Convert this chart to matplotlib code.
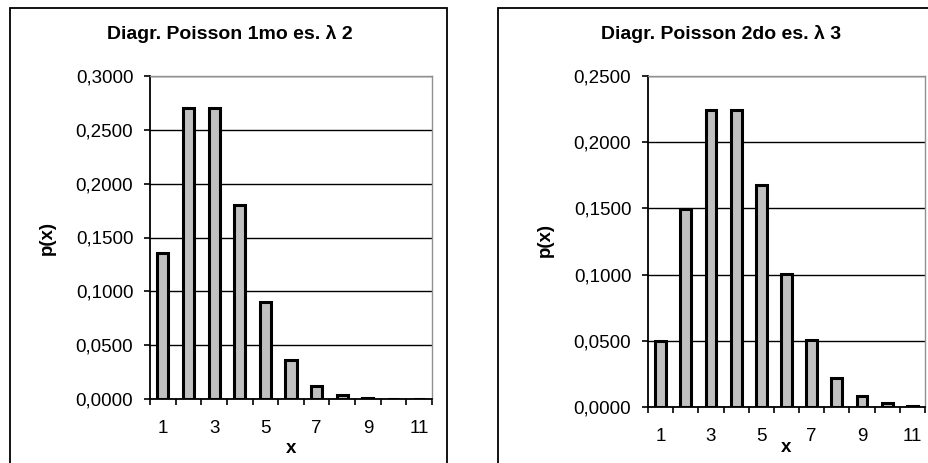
import numpy as np
import matplotlib.pyplot as plt
from matplotlib.patches import Rectangle

# ------------------------------ Data ------------------------------
x_vals = [1, 2, 3, 4, 5, 6, 7, 8, 9, 10, 11]
x_ticklabels = ["1", "3", "5", "7", "9", "11"]

p_lambda2 = [0.1353, 0.2707, 0.2707, 0.1804, 0.0902, 0.0361,
             0.0120, 0.0034, 0.0009, 0.0002, 0.0000]
p_lambda3 = [0.0498, 0.1494, 0.2240, 0.2240, 0.1680, 0.1008,
             0.0504, 0.0216, 0.0081, 0.0027, 0.0008]

title_1 = "Diagr. Poisson 1mo es. λ 2"
title_2 = "Diagr. Poisson 2do es. λ 3"

# --------------------------- Style ---------------------------
plt.rcParams['font.family'] = ['Liberation Sans', 'DejaVu Sans']
W, H = 929, 463
fig = plt.figure(figsize=(W / 100, H / 100), dpi=100)


def fx(px):
    return px / W


def fy(py):
    return (H - py) / H


def draw_panel(box, ax_rect, vals, ymax, title, title_xy, ylabel_xy, xlab_pad):
    # outer frame of the panel
    fig.patches.append(Rectangle((fx(box[0]), fy(box[3])),
                                 fx(box[2] - box[0]), (box[3] - box[1]) / H,
                                 transform=fig.transFigure, fill=False,
                                 edgecolor='black', linewidth=1.3,
                                 clip_on=False))
    l, t, r, b = ax_rect
    ax = fig.add_axes([fx(l), fy(b), fx(r - l), (b - t) / H])
    ax.bar(x_vals, vals, width=0.43, color='#c0c0c0',
           edgecolor='black', linewidth=2.2, zorder=3)
    ax.set_xlim(0.5, 11.5)
    ax.set_ylim(0, ymax)
    ax.set_yticks(np.arange(0, ymax + 1e-9, 0.05))
    ax.set_yticklabels([f"{v:.4f}".replace('.', ',')
                        for v in np.arange(0, ymax + 1e-9, 0.05)])
    ax.yaxis.grid(True, color='black', linewidth=1.0, zorder=0)
    ax.set_axisbelow(True)

    ax.set_xticks(x_vals[::2])
    ax.set_xticklabels(x_ticklabels)
    ax.set_xticks(np.arange(0.5, 12, 1), minor=True)
    ax.tick_params(axis='x', which='major', length=0, pad=15, labelsize=13.5)
    ax.tick_params(axis='x', which='minor', length=4.5, width=1.2,
                   direction='out')
    ax.tick_params(axis='y', length=4, width=1.2, direction='out',
                   pad=8, labelsize=13.5)

    for s in ['top', 'right']:
        ax.spines[s].set_color('#909090')
        ax.spines[s].set_linewidth(1.0)
    for s in ['left', 'bottom']:
        ax.spines[s].set_color('black')
        ax.spines[s].set_linewidth(1.3)

    ax.set_xlabel("x", fontsize=13.5, fontweight='bold', labelpad=xlab_pad)
    fig.text(fx(title_xy[0]), fy(title_xy[1]), title, fontsize=14,
             fontweight='bold', ha='center', va='center')
    fig.text(fx(ylabel_xy[0]), fy(ylabel_xy[1]), "p(x)", fontsize=13.5,
             fontweight='bold', rotation=90, ha='center', va='center')
    return ax


draw_panel((10, 8, 447, 480), (150, 76, 432, 399), p_lambda2, 0.30,
           title_1, (230, 34), (47, 238), 2)
draw_panel((498, 8, 940, 480), (648, 76, 925, 407), p_lambda3, 0.25,
           title_2, (721, 34), (545, 240), -4)

plt.savefig("out.png", dpi=100)
